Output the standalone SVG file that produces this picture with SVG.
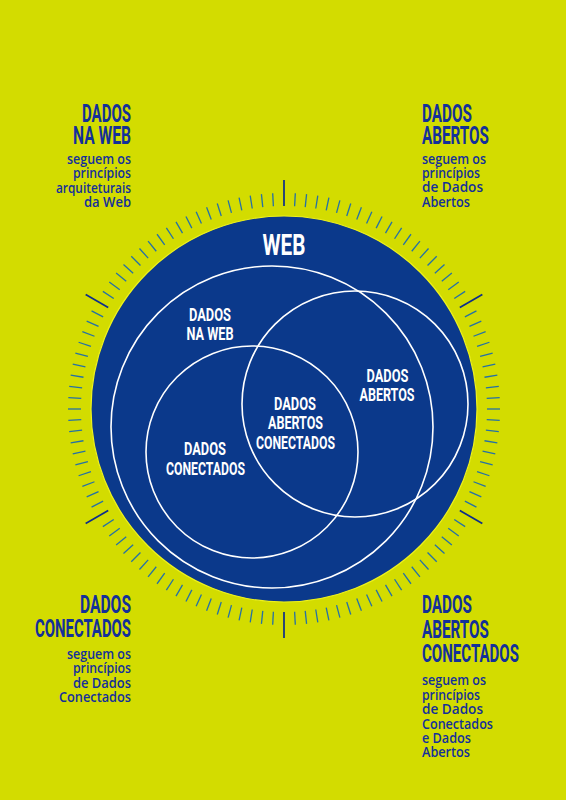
<svg xmlns="http://www.w3.org/2000/svg" xmlns:xlink="http://www.w3.org/1999/xlink" width="566" height="800" viewBox="0 0 566 800">
<style>
.h{font-family:Roboto,"Liberation Sans",sans-serif;font-weight:700;font-size:26.5px;fill:#13309a}
.s{font-family:"Open Sans","Liberation Sans",sans-serif;font-weight:600;font-size:13.5px;fill:#13309a}
.w{font-family:Roboto,"Liberation Sans",sans-serif;font-weight:700;font-size:18.5px;fill:#ffffff}
.big{font-size:30px}
.ring{fill:none;stroke:#ffffff;stroke-width:1.6}
.mt{stroke:#2470a6;stroke-width:1.3}
.lt{stroke:#0c2d8c;stroke-width:1.7}
</style>
<defs>
<g id="q">
<line class="mt" x1="0" y1="-203" x2="0" y2="-216" transform="rotate(3)"/>
<line class="mt" x1="0" y1="-203" x2="0" y2="-216" transform="rotate(6)"/>
<line class="mt" x1="0" y1="-203" x2="0" y2="-216" transform="rotate(9)"/>
<line class="mt" x1="0" y1="-203" x2="0" y2="-216" transform="rotate(12)"/>
<line class="mt" x1="0" y1="-203" x2="0" y2="-216" transform="rotate(15)"/>
<line class="mt" x1="0" y1="-203" x2="0" y2="-216" transform="rotate(18)"/>
<line class="mt" x1="0" y1="-203" x2="0" y2="-216" transform="rotate(21)"/>
<line class="mt" x1="0" y1="-203" x2="0" y2="-216" transform="rotate(24)"/>
<line class="mt" x1="0" y1="-203" x2="0" y2="-216" transform="rotate(27)"/>
<line class="mt" x1="0" y1="-203" x2="0" y2="-216" transform="rotate(30)"/>
<line class="mt" x1="0" y1="-203" x2="0" y2="-216" transform="rotate(33)"/>
<line class="mt" x1="0" y1="-203" x2="0" y2="-216" transform="rotate(36)"/>
<line class="mt" x1="0" y1="-203" x2="0" y2="-216" transform="rotate(39)"/>
<line class="mt" x1="0" y1="-203" x2="0" y2="-216" transform="rotate(42)"/>
<line class="mt" x1="0" y1="-203" x2="0" y2="-216" transform="rotate(45)"/>
<line class="mt" x1="0" y1="-203" x2="0" y2="-216" transform="rotate(48)"/>
<line class="mt" x1="0" y1="-203" x2="0" y2="-216" transform="rotate(51)"/>
<line class="mt" x1="0" y1="-203" x2="0" y2="-216" transform="rotate(54)"/>
<line class="mt" x1="0" y1="-203" x2="0" y2="-216" transform="rotate(57)"/>
<line class="lt" x1="0" y1="-203" x2="0" y2="-229"/>
</g>
</defs>
<rect width="566" height="800" fill="#d3dc00"/>
<g id="scale" transform="translate(284,409)">
<use xlink:href="#q"/>
<use xlink:href="#q" transform="rotate(60)"/>
<use xlink:href="#q" transform="rotate(120)"/>
<use xlink:href="#q" transform="rotate(180)"/>
<use xlink:href="#q" transform="rotate(240)"/>
<use xlink:href="#q" transform="rotate(300)"/>
</g>
<g id="web">
<circle cx="284" cy="409" r="193" fill="#0b398b" stroke="#eef21c" stroke-width="1.2"/>
<text class="w big" x="284" y="255" text-anchor="middle" textLength="43" lengthAdjust="spacingAndGlyphs">WEB</text>
</g>
<g id="dados-na-web">
<circle class="ring" cx="272" cy="427" r="161"/>
<text class="w" x="210" y="321" text-anchor="middle" textLength="42" lengthAdjust="spacingAndGlyphs">DADOS</text>
<text class="w" x="210" y="340" text-anchor="middle" textLength="47" lengthAdjust="spacingAndGlyphs">NA WEB</text>
</g>
<g id="dados-abertos">
<circle class="ring" cx="355" cy="404" r="113"/>
<text class="w" x="387.5" y="382" text-anchor="middle" textLength="42" lengthAdjust="spacingAndGlyphs">DADOS</text>
<text class="w" x="387" y="401" text-anchor="middle" textLength="55" lengthAdjust="spacingAndGlyphs">ABERTOS</text>
</g>
<g id="dados-conectados">
<circle class="ring" cx="252" cy="452" r="106"/>
<text class="w" x="205" y="455" text-anchor="middle" textLength="42" lengthAdjust="spacingAndGlyphs">DADOS</text>
<text class="w" x="205.5" y="475" text-anchor="middle" textLength="79" lengthAdjust="spacingAndGlyphs">CONECTADOS</text>
</g>
<g id="dados-abertos-conectados">
<text class="w" x="295" y="410" text-anchor="middle" textLength="42" lengthAdjust="spacingAndGlyphs">DADOS</text>
<text class="w" x="295.5" y="429" text-anchor="middle" textLength="55" lengthAdjust="spacingAndGlyphs">ABERTOS</text>
<text class="w" x="295.5" y="449" text-anchor="middle" textLength="79" lengthAdjust="spacingAndGlyphs">CONECTADOS</text>
</g>
<g id="legend-na-web" text-anchor="end">
<text class="h" x="131" y="122" textLength="49" lengthAdjust="spacingAndGlyphs">DADOS</text>
<text class="h" x="131" y="144" textLength="58" lengthAdjust="spacingAndGlyphs">NA WEB</text>
<text class="s" x="131" y="164" textLength="64" lengthAdjust="spacingAndGlyphs">seguem os</text>
<text class="s" x="131" y="178" textLength="58" lengthAdjust="spacingAndGlyphs">princípios</text>
<text class="s" x="131" y="192.5" textLength="75" lengthAdjust="spacingAndGlyphs">arquiteturais</text>
<text class="s" x="131" y="207" textLength="47" lengthAdjust="spacingAndGlyphs">da Web</text>
</g>
<g id="legend-abertos">
<text class="h" x="422" y="122" textLength="50" lengthAdjust="spacingAndGlyphs">DADOS</text>
<text class="h" x="422" y="143.5" textLength="67" lengthAdjust="spacingAndGlyphs">ABERTOS</text>
<text class="s" x="422" y="164" textLength="64" lengthAdjust="spacingAndGlyphs">seguem os</text>
<text class="s" x="422" y="178" textLength="58" lengthAdjust="spacingAndGlyphs">princípios</text>
<text class="s" x="422" y="192" textLength="61" lengthAdjust="spacingAndGlyphs">de Dados</text>
<text class="s" x="422" y="207" textLength="48" lengthAdjust="spacingAndGlyphs">Abertos</text>
</g>
<g id="legend-conectados" text-anchor="end">
<text class="h" x="131" y="613" textLength="51" lengthAdjust="spacingAndGlyphs">DADOS</text>
<text class="h" x="131" y="637" textLength="96" lengthAdjust="spacingAndGlyphs">CONECTADOS</text>
<text class="s" x="131" y="659" textLength="64" lengthAdjust="spacingAndGlyphs">seguem os</text>
<text class="s" x="131" y="673" textLength="58" lengthAdjust="spacingAndGlyphs">princípios</text>
<text class="s" x="131" y="687.5" textLength="58" lengthAdjust="spacingAndGlyphs">de Dados</text>
<text class="s" x="131" y="702" textLength="72" lengthAdjust="spacingAndGlyphs">Conectados</text>
</g>
<g id="legend-abertos-conectados">
<text class="h" x="422" y="613" textLength="50" lengthAdjust="spacingAndGlyphs">DADOS</text>
<text class="h" x="422" y="638" textLength="67" lengthAdjust="spacingAndGlyphs">ABERTOS</text>
<text class="h" x="422" y="662" textLength="97" lengthAdjust="spacingAndGlyphs">CONECTADOS</text>
<text class="s" x="422" y="685" textLength="64" lengthAdjust="spacingAndGlyphs">seguem os</text>
<text class="s" x="422" y="699.5" textLength="58" lengthAdjust="spacingAndGlyphs">princípios</text>
<text class="s" x="422" y="714" textLength="61" lengthAdjust="spacingAndGlyphs">de Dados</text>
<text class="s" x="422" y="728.5" textLength="71" lengthAdjust="spacingAndGlyphs">Conectados</text>
<text class="s" x="422" y="743" textLength="49" lengthAdjust="spacingAndGlyphs">e Dados</text>
<text class="s" x="422" y="757" textLength="48" lengthAdjust="spacingAndGlyphs">Abertos</text>
</g>
</svg>
